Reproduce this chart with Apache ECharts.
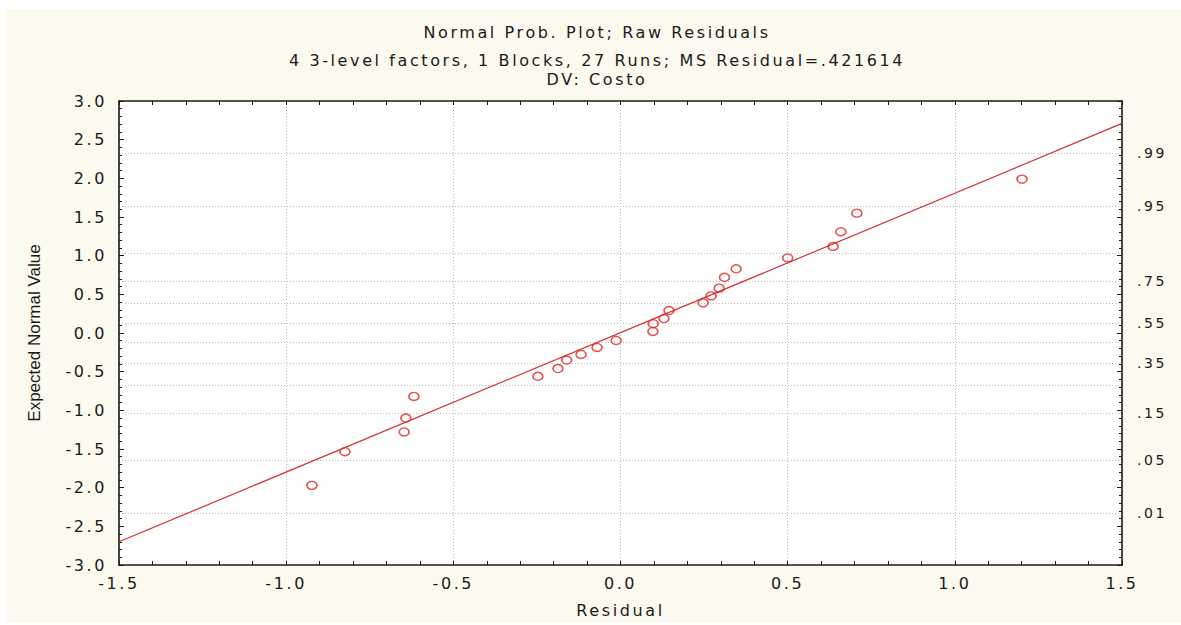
<!DOCTYPE html>
<html><head><meta charset="utf-8">
<script src="https://cdn.jsdelivr.net/npm/echarts@6/dist/echarts.min.js"></script>
<style>
html,body{margin:0;padding:0;background:#fff;width:1181px;height:625px;overflow:hidden}
#chart{position:absolute;left:7px;top:9px;width:1174px;height:614px;background:#fcf9ef}
#chart text{letter-spacing:2.6px}
#chart text[style*="Liberation"]{letter-spacing:0px}
</style></head><body><div id="chart"></div>
<script>
// ---- data ----
const titleLines = [
  'Normal Prob. Plot; Raw Residuals',
  '4 3-level factors, 1 Blocks, 27 Runs; MS Residual=.421614',
  'DV: Costo'
];
const residuals = [-0.923, -0.824, -0.647, -0.642, -0.618, -0.247, -0.187, -0.161, -0.118, -0.070, -0.013,
  0.097, 0.098, 0.130, 0.145, 0.247, 0.271, 0.295, 0.311, 0.346, 0.500, 0.636, 0.659, 0.707, 1.201];
const expectedNormal = [-1.97, -1.535, -1.28, -1.10, -0.82, -0.56, -0.46, -0.35, -0.277, -0.187, -0.097,
  0.02, 0.12, 0.187, 0.29, 0.39, 0.48, 0.58, 0.72, 0.83, 0.97, 1.12, 1.31, 1.55, 1.99];
const fitLineX = [-1.5, 1.5];
const fitLineY = [-2.70, 2.71];
const xMin = -1.5, xMax = 1.5, xStep = 0.5;
const yMin = -3.0, yMax = 3.0, yStep = 0.5;
const probGridValues = [0.01, 0.05, 0.15, 0.25, 0.35, 0.45, 0.55, 0.65, 0.75, 0.85, 0.95, 0.99];
const probLabelValues = [0.01, 0.05, 0.15, 0.35, 0.55, 0.75, 0.95, 0.99];
const probLabelTexts = ['.01', '.05', '.15', '.35', '.55', '.75', '.95', '.99'];
const xAxisName = 'Residual';
const yAxisName = 'Expected Normal Value';

// inverse standard normal (axis scale of the probability labels)
function probit(p){
  const a=[-3.969683028665376e+01,2.209460984245205e+02,-2.759285104469687e+02,1.383577518672690e+02,-3.066479806614716e+01,2.506628277459239e+00];
  const b=[-5.447609879822406e+01,1.615858368580409e+02,-1.556989798598866e+02,6.680131188771972e+01,-1.328068155288572e+01];
  const c=[-7.784894002430293e-03,-3.223964580411365e-01,-2.400758277161838e+00,-2.549732539343734e+00,4.374664141464968e+00,2.938163982698783e+00];
  const d=[7.784695709041462e-03,3.224671290700398e-01,2.445134137142996e+00,3.754408661907416e+00];
  const pl=0.02425, ph=1-pl; let q,r;
  if(p<pl){q=Math.sqrt(-2*Math.log(p));return (((((c[0]*q+c[1])*q+c[2])*q+c[3])*q+c[4])*q+c[5])/((((d[0]*q+d[1])*q+d[2])*q+d[3])*q+1);}
  if(p<=ph){q=p-0.5;r=q*q;return (((((a[0]*r+a[1])*r+a[2])*r+a[3])*r+a[4])*r+a[5])*q/(((((b[0]*r+b[1])*r+b[2])*r+b[3])*r+b[4])*r+1);}
  q=Math.sqrt(-2*Math.log(1-p));return -(((((c[0]*q+c[1])*q+c[2])*q+c[3])*q+c[4])*q+c[5])/((((d[0]*q+d[1])*q+d[2])*q+d[3])*q+1);
}
const probGridZ = probGridValues.map(probit);
const probLabelZ = probLabelValues.map(probit);

const txt = '#1a1a1a';
const fontFam = '"DejaVu Sans", sans-serif';
const axisLineStyle = {color:'#1a1a1a', width:1.6};
const gridDots = {color:'#bdbdbd', width:1, type:[1,2]};
const tickStyle = {color:'#1a1a1a', width:1};

const chart = echarts.init(document.getElementById('chart'), null, {renderer:'svg'});
const titleTops = [15, 43, 62];
chart.setOption({
  animation:false,
  title: titleLines.map((t,i)=>({
    text:t, left:590, top:titleTops[i], textAlign:'center', padding:0,
    textStyle:{fontFamily:fontFam, fontSize:16, fontWeight:'normal', color:txt}
  })),
  grid:{left:112, right:59, top:92, bottom:57, show:true, backgroundColor:'#ffffff', borderWidth:0},
  xAxis:[
    {type:'value', min:xMin, max:xMax, interval:xStep, position:'bottom',
     name:xAxisName, nameLocation:'middle', nameGap:37,
     nameTextStyle:{fontFamily:fontFam, fontSize:16, color:txt},
     axisLine:{show:true, onZero:false, lineStyle:axisLineStyle},
     axisTick:{show:true, inside:true, length:4, lineStyle:tickStyle},
     minorTick:{show:true, splitNumber:5, length:4, lineStyle:tickStyle},
     axisLabel:{margin:10, fontFamily:fontFam, fontSize:16, color:txt, formatter:v=>v.toFixed(1)},
     splitLine:{show:true, lineStyle:gridDots}},
    {type:'value', min:xMin, max:xMax, interval:xStep, position:'top',
     axisLine:{show:true, onZero:false, lineStyle:axisLineStyle},
     axisTick:{show:true, inside:true, length:4, lineStyle:tickStyle},
     minorTick:{show:true, splitNumber:5, length:4, lineStyle:tickStyle},
     axisLabel:{show:false}, splitLine:{show:false}}
  ],
  yAxis:[
    {type:'value', min:yMin, max:yMax, interval:yStep, position:'left',
     name:yAxisName, nameLocation:'middle', nameGap:76, nameRotate:90,
     nameTextStyle:{fontFamily:'"Liberation Sans", Arial, sans-serif', fontSize:17, color:txt},
     axisLine:{show:true, onZero:false, lineStyle:axisLineStyle},
     axisTick:{show:true, inside:true, length:5, lineStyle:tickStyle},
     minorTick:{show:true, splitNumber:5, length:3, lineStyle:tickStyle},
     axisLabel:{margin:12, fontFamily:fontFam, fontSize:16, color:txt, formatter:v=>v.toFixed(1)},
     splitLine:{show:false}},
    {type:'value', min:yMin, max:yMax, interval:yStep, position:'right',
     axisLine:{show:true, onZero:false, lineStyle:axisLineStyle},
     axisTick:{show:true, inside:true, length:5, lineStyle:tickStyle},
     minorTick:{show:true, splitNumber:5, length:3, lineStyle:tickStyle},
     axisLabel:{show:false}, splitLine:{show:false}},
    {type:'value', min:yMin, max:yMax, position:'right',
     axisLine:{show:false, onZero:false},
     axisTick:{show:false, customValues:probGridZ},
     axisLabel:{show:true, margin:15, fontFamily:fontFam, fontSize:14, color:txt,
       customValues:probLabelZ,
       formatter:v=>{let k=0,best=1e9;probLabelZ.forEach((z,i)=>{const d=Math.abs(z-v);if(d<best){best=d;k=i;}});return probLabelTexts[k];}},
     splitLine:{show:true, lineStyle:gridDots}}
  ],
  series:[
    {type:'line', xAxisIndex:0, yAxisIndex:0, data:fitLineX.map((x,i)=>[x,fitLineY[i]]),
     symbol:'none', lineStyle:{color:'#d63030', width:1.2}, silent:true, z:3},
    {type:'scatter', xAxisIndex:0, yAxisIndex:0, data:residuals.map((x,i)=>[x,expectedNormal[i]]),
     symbol:'circle', symbolSize:[10,8],
     itemStyle:{color:'rgba(255,255,255,0)', borderColor:'#e02424', borderWidth:1.5}, z:4}
  ]
});
</script></body></html>
